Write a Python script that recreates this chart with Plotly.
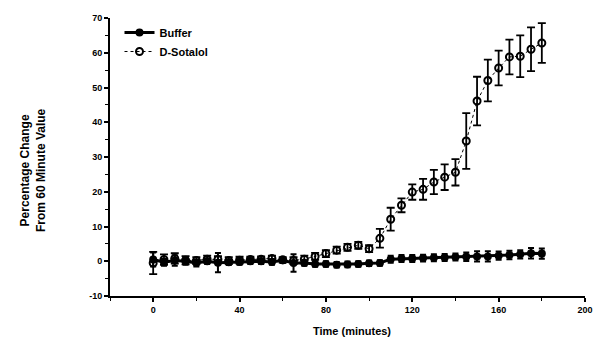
import plotly.graph_objects as go

# Sampling times (minutes)
time_min = [0, 5, 10, 15, 20, 25, 30, 35, 40, 45, 50, 55, 60, 65, 70, 75, 80, 85,
            90, 95, 100, 105, 110, 115, 120, 125, 130, 135, 140, 145, 150, 155,
            160, 165, 170, 175, 180]

# Percentage change from 60 minute value (mean) and SEM
buffer_mean = [0.5, -0.3, 0.2, 0.0, -0.5, 0.0, -0.4, -0.3, -0.2, 0.0, 0.0, -0.2,
               0.3, -0.5, -0.5, -0.8, -0.8, -1.0, -0.9, -0.8, -0.6, -0.5, 0.6,
               0.8, 0.8, 0.9, 1.0, 1.1, 1.2, 1.3, 1.4, 1.4, 1.6, 1.8, 2.0, 2.3, 2.2]
buffer_sem = [2.0, 1.0, 1.5, 1.0, 1.0, 0.8, 2.8, 0.8, 0.8, 0.8, 0.8, 0.8, 0.8,
              2.5, 0.8, 0.8, 0.8, 0.8, 0.8, 0.8, 0.8, 0.8, 1.0, 1.0, 1.0, 1.0,
              1.0, 1.0, 1.0, 1.2, 1.5, 1.5, 1.2, 1.2, 1.2, 1.5, 1.5]

sotalol_mean = [-0.5, 0.5, 0.8, 0.3, 0.2, 0.6, 0.5, 0.2, 0.3, 0.5, 0.6, 0.8, 0.4,
                0.2, 0.6, 1.4, 2.2, 3.2, 4.0, 4.6, 3.6, 6.6, 12.1, 16.1, 19.9,
                20.7, 22.8, 24.2, 25.6, 34.6, 46.1, 52.0, 55.6, 58.8, 59.0, 61.0,
                62.8]
sotalol_sem = [3.2, 1.5, 1.5, 1.2, 1.0, 1.0, 1.0, 1.0, 1.0, 0.8, 0.8, 0.8, 0.8,
               1.0, 1.0, 1.0, 1.0, 1.0, 1.0, 1.0, 1.0, 2.7, 3.3, 2.0, 2.2, 3.0,
               3.5, 3.7, 3.8, 8.0, 7.0, 6.0, 5.0, 5.0, 6.0, 6.3, 5.7]

x_ticks = [0, 40, 80, 120, 160, 200]
y_ticks = [-10, 0, 10, 20, 30, 40, 50, 60, 70]

FONT = "Liberation Sans, Arial, sans-serif"

fig = go.Figure()

fig.add_trace(go.Scatter(
    x=time_min, y=buffer_mean, name="<b>Buffer</b>", mode="lines+markers",
    line=dict(color="black", width=3),
    marker=dict(symbol="circle", size=8, color="black"),
    error_y=dict(type="data", array=buffer_sem, color="black", thickness=2, width=3),
))

fig.add_trace(go.Scatter(
    x=time_min, y=sotalol_mean, name="<b>D-Sotalol</b>", mode="lines+markers",
    line=dict(color="black", width=1, dash="dot"),
    marker=dict(symbol="circle-open", size=7, color="black", line=dict(width=2)),
    error_y=dict(type="data", array=sotalol_sem, color="black", thickness=1.8, width=4),
))

axis_common = dict(
    showline=True, linecolor="black", linewidth=2, ticks="outside",
    tickcolor="black", tickwidth=1.5, ticklen=4, showgrid=False, zeroline=False,
    tickfont=dict(family=FONT, size=9, color="black", weight="bold"),
)

fig.update_xaxes(range=[-20, 200], tickvals=x_ticks, ticktext=[str(v) for v in x_ticks],
                 minor=dict(ticks="outside", dtick=20, tick0=0, ticklen=3,
                            tickcolor="black", tickwidth=1),
                 **axis_common)
fig.update_yaxes(range=[-10, 70], tickvals=y_ticks,
                 ticktext=["-10" if v < 0 else str(v) for v in y_ticks],
                 minor=dict(ticks="outside", dtick=5, tick0=0, ticklen=3,
                            tickcolor="black", tickwidth=1),
                 **axis_common)

fig.update_layout(
    width=595, height=346,
    margin=dict(l=110, r=10, t=18, b=50, autoexpand=False),
    paper_bgcolor="white", plot_bgcolor="white",
    font=dict(family=FONT, color="black"),
    showlegend=True,
    legend=dict(x=0.02, y=1.0, xanchor="left", yanchor="top",
                bgcolor="rgba(0,0,0,0)", font=dict(family=FONT, size=11),
                itemwidth=30, tracegroupgap=4),
    annotations=[
        dict(text="<b>Percentage Change<br>From 60 Minute Value</b>",
             xref="paper", yref="paper", x=-0.162, y=0.453, textangle=-90,
             xanchor="center", yanchor="middle",
             showarrow=False, font=dict(family=FONT, size=12)),
        dict(text="<b>Time (minutes)</b>", xref="paper", yref="paper",
             x=0.51, y=-0.126, showarrow=False, yanchor="middle",
             font=dict(family=FONT, size=11)),
    ],
)

fig.write_html("out.html")
